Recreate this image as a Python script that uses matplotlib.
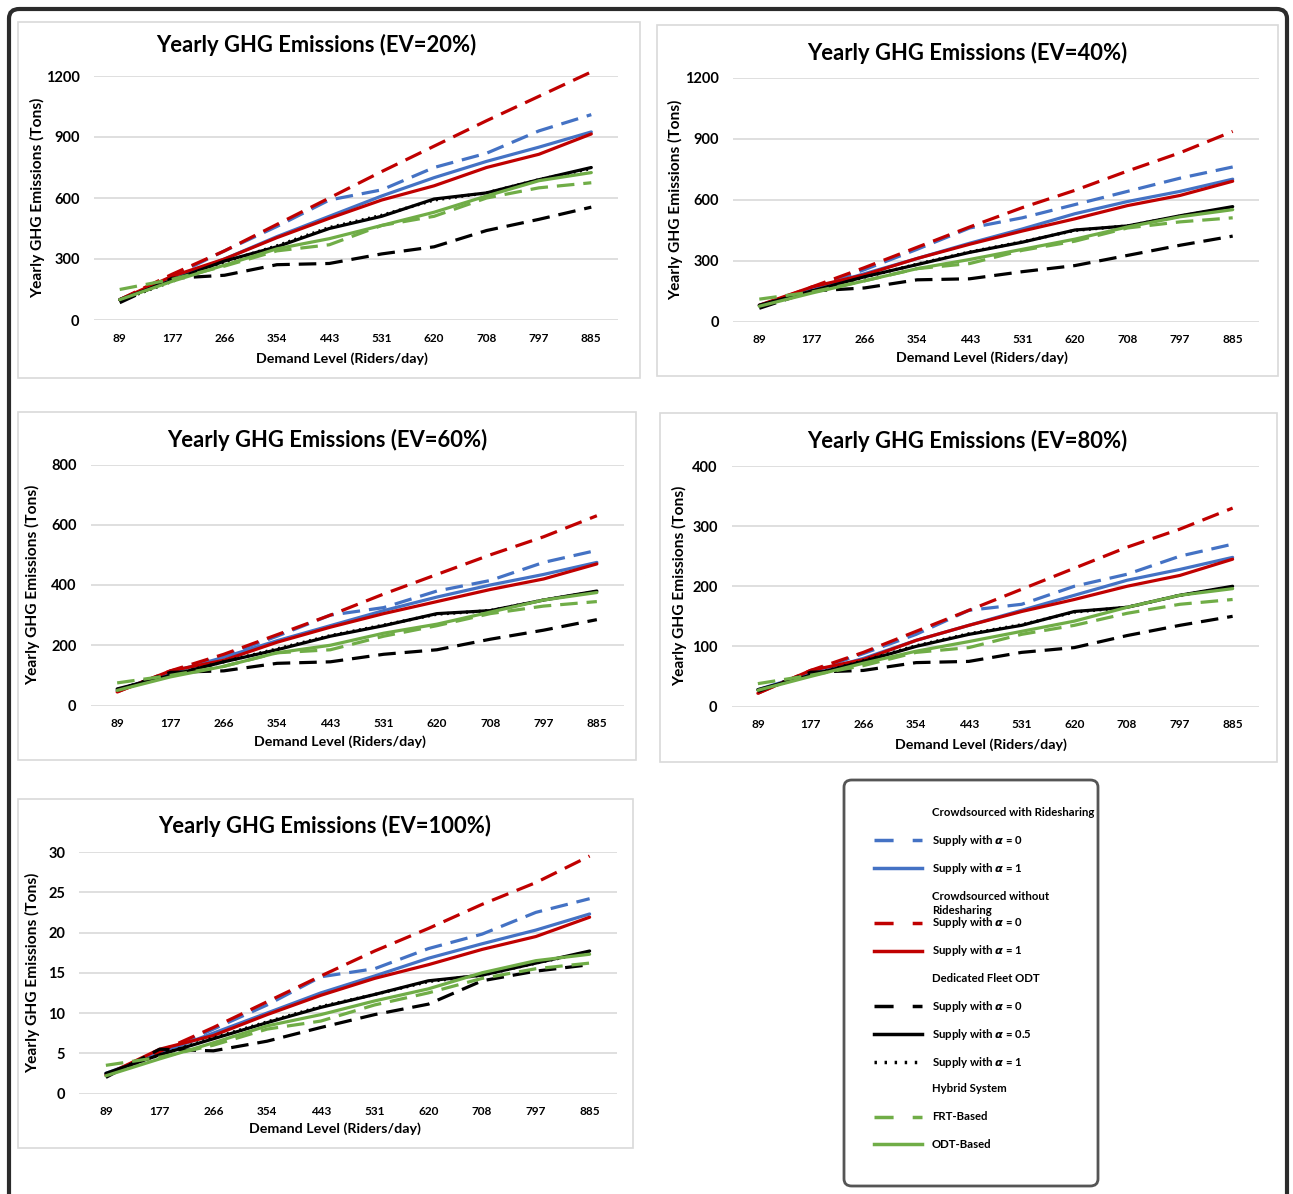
import matplotlib
matplotlib.use("Agg")
import matplotlib.pyplot as plt
from matplotlib.patches import FancyBboxPatch, Rectangle
from matplotlib.lines import Line2D

W, H = 1293, 1194
plt.rcParams["font.family"] = ["Lato", "DejaVu Sans"]
plt.rcParams["font.weight"] = "bold"

demand = ["89", "177", "266", "354", "443", "531", "620", "708", "797", "885"]

# EV = 20%
ev20_crowd_rs_a0 = [100, 215, 340, 460, 590, 640, 750, 820, 930, 1010]
ev20_crowd_rs_a1 = [100, 200, 300, 410, 510, 610, 700, 780, 850, 925]
ev20_crowd_nors_a0 = [100, 225, 340, 470, 600, 730, 855, 980, 1100, 1220]
ev20_crowd_nors_a1 = [100, 215, 300, 405, 500, 590, 660, 750, 815, 915]
ev20_fleet_a0 = [85, 205, 220, 272, 278, 325, 360, 440, 495, 555]
ev20_fleet_a05 = [100, 195, 290, 360, 450, 510, 595, 625, 690, 750]
ev20_fleet_a1 = [95, 190, 285, 365, 455, 515, 590, 625, 690, 745]
ev20_hybrid_frt = [150, 200, 265, 340, 370, 465, 510, 600, 650, 675]
ev20_hybrid_odt = [100, 190, 270, 350, 400, 465, 530, 610, 685, 725]

# EV = 40%
ev40_crowd_rs_a0 = [75, 165, 255, 355, 460, 510, 575, 640, 705, 760]
ev40_crowd_rs_a1 = [80, 160, 235, 310, 385, 455, 530, 590, 640, 700]
ev40_crowd_nors_a0 = [75, 170, 265, 365, 465, 560, 645, 740, 830, 935]
ev40_crowd_nors_a1 = [80, 170, 230, 310, 380, 445, 505, 570, 620, 690]
ev40_fleet_a0 = [65, 150, 165, 205, 210, 245, 275, 325, 375, 420]
ev40_fleet_a05 = [80, 150, 220, 280, 340, 390, 450, 470, 520, 565]
ev40_fleet_a1 = [78, 148, 218, 282, 342, 392, 448, 470, 518, 562]
ev40_hybrid_frt = [110, 145, 200, 260, 285, 350, 395, 460, 490, 510]
ev40_hybrid_odt = [75, 140, 200, 260, 305, 355, 405, 465, 515, 550]

# EV = 60%
ev60_crowd_rs_a0 = [50, 110, 165, 230, 300, 325, 380, 415, 475, 515]
ev60_crowd_rs_a1 = [50, 110, 160, 215, 265, 315, 360, 400, 435, 475]
ev60_crowd_nors_a0 = [45, 115, 170, 235, 300, 370, 435, 500, 560, 630]
ev60_crowd_nors_a1 = [45, 115, 150, 210, 260, 305, 345, 385, 420, 470]
ev60_fleet_a0 = [50, 110, 115, 140, 145, 170, 185, 220, 250, 285]
ev60_fleet_a05 = [55, 100, 145, 185, 230, 265, 305, 315, 350, 380]
ev60_fleet_a1 = [53, 100, 145, 188, 232, 267, 303, 315, 350, 378]
ev60_hybrid_frt = [75, 100, 130, 175, 185, 230, 265, 305, 330, 345]
ev60_hybrid_odt = [50, 95, 130, 175, 200, 240, 270, 310, 350, 375]

# EV = 80%
ev80_crowd_rs_a0 = [25, 58, 88, 120, 160, 170, 200, 220, 250, 270]
ev80_crowd_rs_a1 = [28, 55, 80, 110, 135, 160, 185, 210, 228, 248]
ev80_crowd_nors_a0 = [22, 60, 90, 125, 160, 195, 230, 265, 295, 330]
ev80_crowd_nors_a1 = [22, 60, 78, 110, 135, 158, 178, 200, 218, 245]
ev80_fleet_a0 = [25, 57, 60, 73, 75, 90, 98, 118, 135, 150]
ev80_fleet_a05 = [28, 52, 75, 100, 120, 135, 158, 165, 185, 200]
ev80_fleet_a1 = [27, 52, 76, 101, 121, 136, 157, 165, 185, 199]
ev80_hybrid_frt = [38, 52, 68, 90, 98, 120, 135, 155, 170, 178]
ev80_hybrid_odt = [27, 50, 72, 92, 108, 125, 142, 165, 185, 196]

# EV = 100%
ev100_crowd_rs_a0 = [2.3, 5.0, 8.0, 11.0, 14.5, 15.5, 18.0, 19.8, 22.5, 24.2]
ev100_crowd_rs_a1 = [2.5, 5.0, 7.5, 10.0, 12.5, 14.6, 16.8, 18.6, 20.3, 22.3]
ev100_crowd_nors_a0 = [2.2, 5.2, 8.2, 11.4, 14.6, 17.7, 20.5, 23.5, 26.2, 29.5]
ev100_crowd_nors_a1 = [2.3, 5.5, 7.2, 9.8, 12.2, 14.3, 16.0, 17.9, 19.5, 21.9]
ev100_fleet_a0 = [2.0, 5.5, 5.3, 6.5, 8.2, 9.8, 11.1, 14.0, 15.2, 16.0]
ev100_fleet_a05 = [2.5, 4.8, 6.8, 8.8, 10.7, 12.3, 14.0, 14.7, 16.2, 17.7]
ev100_fleet_a1 = [2.4, 4.8, 6.9, 8.9, 10.8, 12.3, 13.9, 14.7, 16.2, 17.6]
ev100_hybrid_frt = [3.5, 4.5, 6.0, 8.0, 9.0, 11.0, 12.5, 14.3, 15.5, 16.2]
ev100_hybrid_odt = [2.2, 4.3, 6.3, 8.4, 9.8, 11.5, 13.0, 15.0, 16.5, 17.3]

BLUE, RED, BLACK, GREEN = "#4472C4", "#C00000", "#000000", "#70AD47"
DASH = (0, (5.5, 2.8))
styles = [(BLUE, DASH), (BLUE, "-"), (RED, DASH), (RED, "-"),
          (BLACK, DASH), (BLACK, "-"), (BLACK, (0, (0.6, 1.4))),
          (GREEN, DASH), (GREEN, "-")]

panels = [
    ("Yearly GHG Emissions (EV=20%)",
     [ev20_crowd_rs_a0, ev20_crowd_rs_a1, ev20_crowd_nors_a0, ev20_crowd_nors_a1,
      ev20_fleet_a0, ev20_fleet_a05, ev20_fleet_a1, ev20_hybrid_frt, ev20_hybrid_odt],
     [0, 300, 600, 900, 1200]),
    ("Yearly GHG Emissions (EV=40%)",
     [ev40_crowd_rs_a0, ev40_crowd_rs_a1, ev40_crowd_nors_a0, ev40_crowd_nors_a1,
      ev40_fleet_a0, ev40_fleet_a05, ev40_fleet_a1, ev40_hybrid_frt, ev40_hybrid_odt],
     [0, 300, 600, 900, 1200]),
    ("Yearly GHG Emissions (EV=60%)",
     [ev60_crowd_rs_a0, ev60_crowd_rs_a1, ev60_crowd_nors_a0, ev60_crowd_nors_a1,
      ev60_fleet_a0, ev60_fleet_a05, ev60_fleet_a1, ev60_hybrid_frt, ev60_hybrid_odt],
     [0, 200, 400, 600, 800]),
    ("Yearly GHG Emissions (EV=80%)",
     [ev80_crowd_rs_a0, ev80_crowd_rs_a1, ev80_crowd_nors_a0, ev80_crowd_nors_a1,
      ev80_fleet_a0, ev80_fleet_a05, ev80_fleet_a1, ev80_hybrid_frt, ev80_hybrid_odt],
     [0, 100, 200, 300, 400]),
    ("Yearly GHG Emissions (EV=100%)",
     [ev100_crowd_rs_a0, ev100_crowd_rs_a1, ev100_crowd_nors_a0, ev100_crowd_nors_a1,
      ev100_fleet_a0, ev100_fleet_a05, ev100_fleet_a1, ev100_hybrid_frt, ev100_hybrid_odt],
     [0, 5, 10, 15, 20, 25, 30]),
]

# layout in pixels: panel box, plot area (x0, y_top, x1, y_bottom), title (x, y),
# ylabel x, xlabel (x, y)
layout = [
    ((18, 22, 640, 378), (93.5, 76, 617.5, 320), (316, 45), 38, (342, 359)),
    ((657, 25, 1278, 376), (733, 77.5, 1259, 321.5), (967, 53), 676, (982, 358)),
    ((18, 412, 636, 760), (90.5, 464.5, 623.5, 705.5), (327, 440), 33, (340, 742)),
    ((660, 413, 1277, 762), (731.5, 466, 1259, 706.5), (967, 441), 680, (981, 745)),
    ((18, 799, 633, 1148), (79, 852, 616.5, 1093.5), (325, 826), 33, (335, 1129)),
]


def fx(px):
    return px / W


def fy(py):
    return 1 - py / H


fig = plt.figure(figsize=(W / 100, H / 100), dpi=100)

# outer dark frame
fig.patches.append(FancyBboxPatch((fx(9), fy(1215)), fx(1278), 1206 / H,
                                  boxstyle="round,pad=0,rounding_size=0.008",
                                  transform=fig.transFigure, fill=False,
                                  edgecolor="#2b2b2b", linewidth=3))

for (title, series, yticks), (box, area, tpos, ylx, xlpos) in zip(panels, layout):
    bx0, by0, bx1, by1 = box
    fig.patches.append(Rectangle((fx(bx0), fy(by1)), (bx1 - bx0) / W, (by1 - by0) / H,
                                 transform=fig.transFigure, fill=False,
                                 edgecolor="#d9d9d9", linewidth=1.2))
    x0, yt, x1, yb = area
    ax = fig.add_axes([fx(x0), fy(yb), (x1 - x0) / W, (yb - yt) / H])
    xs = range(len(demand))
    for vals, (color, ls) in zip(series, styles):
        ax.plot(xs, vals, color=color, linestyle=ls, linewidth=2.3,
                solid_capstyle="round", dash_capstyle="butt", clip_on=False)
    ax.set_xlim(-0.5, len(demand) - 0.5)
    ax.set_ylim(yticks[0], yticks[-1])
    ax.set_yticks(yticks)
    ax.set_xticks(list(xs))
    ax.set_xticklabels(demand, fontsize=8.5, fontweight="bold")
    ax.set_yticklabels([str(t) for t in yticks], fontsize=10.5, fontweight="bold")
    ax.tick_params(axis="both", length=0)
    ax.tick_params(axis="y", pad=10)
    ax.tick_params(axis="x", pad=9)
    ax.grid(axis="y", color="#d9d9d9", linewidth=1.2)
    ax.set_axisbelow(True)
    for s in ax.spines.values():
        s.set_visible(False)

    fig.text(fx(tpos[0]), fy(tpos[1]), title, ha="center", va="center",
             fontsize=15.8, fontweight="bold")
    fig.text(fx(ylx), fy((yt + yb) / 2 - 0), "Yearly GHG Emissions (Tons)",
             rotation=90, ha="center", va="center", fontsize=11.2, fontweight="bold")
    fig.text(fx(xlpos[0]), fy(xlpos[1]), "Demand Level (Riders/day)",
             ha="center", va="center", fontsize=10.3, fontweight="bold")

# legend box
lx0, ly0, lx1, ly1 = 844, 780, 1098, 1186
fig.patches.append(FancyBboxPatch((fx(lx0), fy(ly1)), (lx1 - lx0) / W, (ly1 - ly0) / H,
                                  boxstyle="round,pad=0,rounding_size=0.006",
                                  transform=fig.transFigure, fill=False,
                                  edgecolor="#555555", linewidth=2))

ALPHA = r"$\boldsymbol{\alpha}$"
legend_rows = [
    (812, None, "Crowdsourced with Ridesharing"),
    (840, 0, "Supply with " + ALPHA + " = 0"),
    (868, 1, "Supply with " + ALPHA + " = 1"),
    (896, None, "Crowdsourced without"),
    (910, None, "Ridesharing"),
    (923, 2, "Supply with " + ALPHA + " = 0"),
    (951, 3, "Supply with " + ALPHA + " = 1"),
    (978, None, "Dedicated Fleet ODT"),
    (1006, 4, "Supply with " + ALPHA + " = 0"),
    (1034, 5, "Supply with " + ALPHA + " = 0.5"),
    (1062, 6, "Supply with " + ALPHA + " = 1"),
    (1089, None, "Hybrid System"),
    (1117, 7, "FRT-Based"),
    (1144, 8, "ODT-Based"),
]
for py, idx, label in legend_rows:
    if idx is not None:
        color, ls = styles[idx]
        if idx == 6:
            ls = (0, (0.7, 2.2))
        elif ls == DASH:
            ls = (0, (5.5, 5.5))
        fig.add_artist(Line2D([fx(874), fx(922)], [fy(py), fy(py)], color=color,
                              linestyle=ls, linewidth=2.5, transform=fig.transFigure))
    fig.text(fx(932), fy(py), label, ha="left", va="center", fontsize=8.2,
             fontweight="bold")

fig.savefig("out.png", dpi=100)
